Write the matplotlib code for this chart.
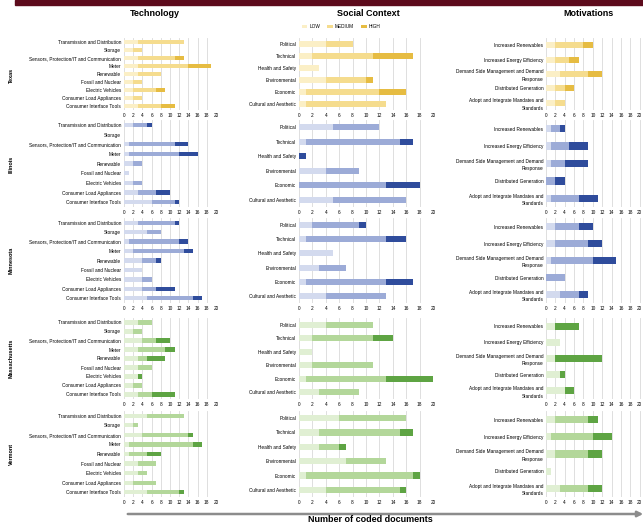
import numpy as np
import matplotlib.pyplot as plt
from matplotlib.patches import Rectangle, FancyArrowPatch, Patch

plt.rcParams['font.family'] = ['Liberation Sans', 'DejaVu Sans']

# categories
tech_cats = ["Transmission and Distribution", "Storage",
             "Sensors, Protection/IT and Communication", "Meter", "Renewable",
             "Fossil and Nuclear", "Electric Vehicles", "Consumer Load Appliances",
             "Consumer Interface Tools"]
social_cats = ["Political", "Technical", "Health and Safety", "Environmental",
               "Economic", "Cultural and Aesthetic"]
motiv_cats = ["Increased Renewables", "Increased Energy Efficiency",
              "Demand Side Management and Demand\nResponse", "Distributed Generation",
              "Adopt and Integrate Mandates and\nStandards"]
states = ["Texas", "Illinois", "Minnesota", "Massachusetts", "Vermont"]
levels = ["LOW", "MEDIUM", "HIGH"]

# number of coded documents per category: [low, medium, high]
texas_tech = [[3, 10, 0], [2, 2, 0], [3, 8, 2], [3, 11, 5], [3, 5, 0], [2, 2, 0], [2, 5, 2], [2, 2, 0], [3, 5, 3]]
texas_social = [[4, 4, 0], [2, 9, 6], [3, 0, 0], [4, 6, 1], [1, 11, 4], [1, 12, 0]]
texas_motiv = [[2, 6, 2], [2, 3, 2], [3, 6, 3], [2, 2, 2], [2, 2, 0]]

illinois_tech = [[2, 3, 1], [0, 0, 0], [1, 10, 3], [1, 11, 4], [2, 2, 0], [1, 0, 0], [2, 2, 0], [3, 4, 3], [6, 5, 1]]
illinois_social = [[5, 7, 0], [1, 14, 2], [0, 0, 1], [4, 5, 0], [0, 13, 5], [5, 11, 0]]
illinois_motiv = [[1, 2, 1], [1, 4, 4], [1, 3, 5], [0, 2, 2], [1, 6, 4]]

minnesota_tech = [[3, 8, 1], [5, 3, 0], [1, 11, 2], [2, 11, 2], [4, 3, 1], [4, 0, 0], [4, 2, 0], [4, 3, 4], [5, 10, 2]]
minnesota_social = [[2, 7, 1], [1, 12, 3], [5, 0, 0], [3, 4, 0], [1, 12, 4], [4, 9, 0]]
minnesota_motiv = [[2, 5, 3], [2, 7, 3], [1, 9, 5], [0, 4, 0], [3, 4, 2]]

mass_tech = [[3, 3, 0], [2, 2, 0], [4, 3, 3], [3, 6, 2], [3, 2, 4], [3, 3, 0], [3, 0, 1], [2, 2, 0], [3, 3, 5]]
mass_social = [[4, 7, 0], [2, 9, 3], [2, 0, 0], [2, 9, 0], [1, 12, 7], [3, 6, 0]]
mass_motiv = [[2, 0, 5], [3, 0, 0], [2, 0, 10], [3, 0, 1], [4, 0, 2]]

vermont_tech = [[5, 8, 0], [2, 1, 0], [4, 10, 1], [1, 14, 2], [1, 4, 3], [3, 4, 0], [3, 2, 0], [2, 5, 0], [5, 7, 1]]
vermont_social = [[6, 10, 0], [3, 12, 2], [3, 3, 1], [7, 6, 0], [1, 16, 1], [4, 11, 1]]
vermont_motiv = [[2, 7, 2], [1, 9, 4], [2, 7, 3], [1, 0, 0], [3, 6, 3]]

yellow = ['#fbefc6', '#f5dc8e', '#e6bc42']
blue = ['#d3daee', '#9cabd7', '#2f4c9c']
green = ['#e0efd3', '#b3d79a', '#5ea443']

rows = [
    (texas_tech, texas_social, texas_motiv, yellow),
    (illinois_tech, illinois_social, illinois_motiv, blue),
    (minnesota_tech, minnesota_social, minnesota_motiv, blue),
    (mass_tech, mass_social, mass_motiv, green),
    (vermont_tech, vermont_social, vermont_motiv, green),
]

W, H = 643, 525
fig = plt.figure(figsize=(W / 100, H / 100), dpi=100)


def px_box(x0, x1, y0, y1):
    return [x0 / W, 1 - y1 / H, (x1 - x0) / W, (y1 - y0) / H]


col_x = [(124, 216, 20), (299, 433, 20), (546, 649, 22)]
row_y = [(38, 110), (120, 207), (218, 303), (318, 399), (411, 497)]
row_mid = [75, 164, 260, 358, 454]
cats_list = [tech_cats, social_cats, motiv_cats]
bar_h = [0.45, 0.42, 0.42]

for r, (tech, social, motiv, colors) in enumerate(rows):
    for c, data in enumerate([tech, social, motiv]):
        x0, x1, xmax = col_x[c]
        y0, y1 = row_y[r]
        ax = fig.add_axes(px_box(x0, x1, y0, y1))
        arr = np.array(data, dtype=float)
        y = np.arange(len(arr))
        left = np.zeros(len(arr))
        for k in range(3):
            ax.barh(y, arr[:, k], left=left, height=bar_h[c], color=colors[k], linewidth=0)
            left += arr[:, k]
        ax.set_xlim(0, xmax)
        ax.set_ylim(len(arr) - 0.5, -0.5)
        ticks = np.arange(0, xmax + 1, 2)
        ax.set_xticks(ticks)
        ax.set_xticklabels([str(t) if t <= 20 else '' for t in ticks])
        ax.set_yticks(y)
        ax.set_yticklabels(cats_list[c], fontsize=3.4, linespacing=1.6, multialignment='right')
        ax.tick_params(axis='both', length=0, labelsize=3.4, pad=2)
        ax.grid(axis='x', color='#d9d9d9', linewidth=0.6)
        ax.set_axisbelow(True)
        for s in ax.spines.values():
            s.set_visible(False)
    fig.text(11 / W, 1 - row_mid[r] / H, states[r], rotation=90, fontsize=4,
             weight='bold', ha='center', va='center')

fig.text(155 / W, 1 - 14 / H, "Technology", fontsize=6.5, weight='bold', ha='center', va='center')
fig.text(368 / W, 1 - 14 / H, "Social Context", fontsize=6.5, weight='bold', ha='center', va='center')
fig.text(588 / W, 1 - 14 / H, "Motivations", fontsize=6.5, weight='bold', ha='center', va='center')

handles = [Patch(facecolor=yellow[k], edgecolor='none') for k in range(3)]
fig.legend(handles, levels, loc='center', bbox_to_anchor=(341 / W, 1 - 27 / H), ncol=3,
           fontsize=3.4, frameon=False, handlelength=1.2, handleheight=0.5,
           columnspacing=1.5, handletextpad=0.4)

# maroon band at the top
fig.add_artist(Rectangle((15 / W, 1 - 5 / H), (W - 15) / W, 5 / H,
                         transform=fig.transFigure, color='#5d0b1c'))

# axis arrow and label at the bottom
fig.add_artist(FancyArrowPatch((125 / W, 1 - 514 / H), (646 / W, 1 - 514 / H),
                               transform=fig.transFigure, arrowstyle='-|>',
                               mutation_scale=8, lw=1.8, color='#8c8c8c'))
fig.text(370 / W, 1 - 520 / H, "Number of coded documents", fontsize=6.5,
         weight='bold', ha='center', va='center')

fig.savefig('out.png', dpi=100)
